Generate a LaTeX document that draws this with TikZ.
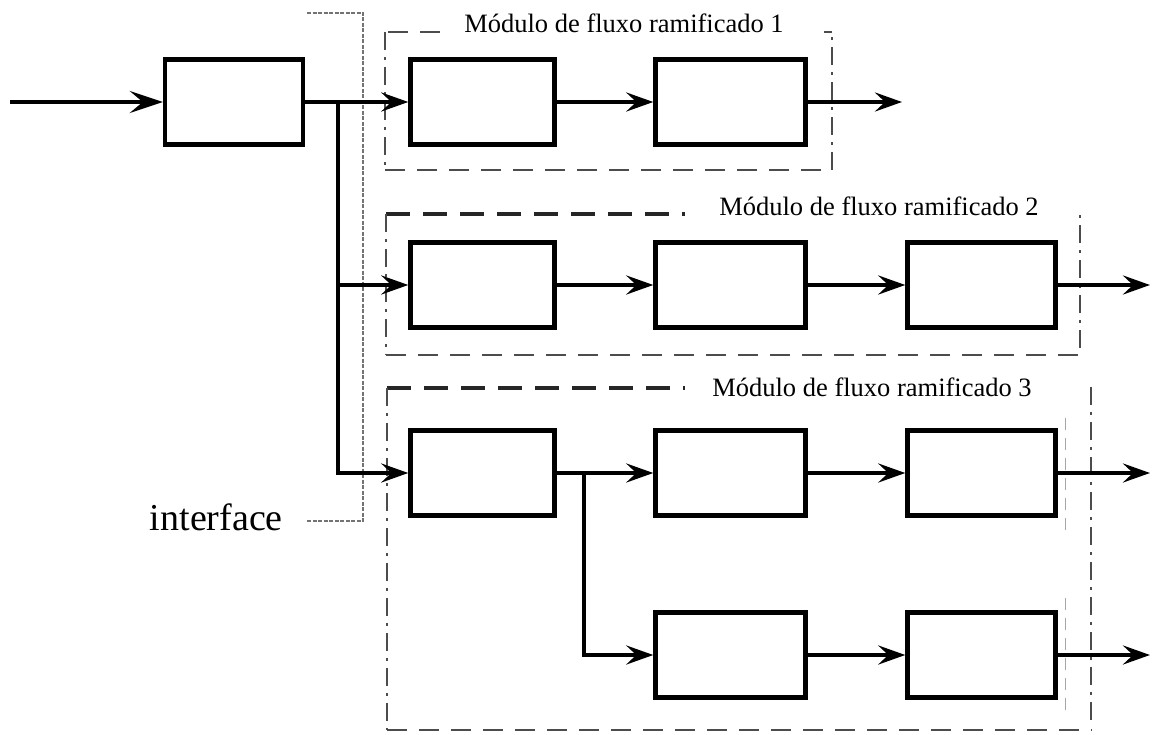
\documentclass[tikz,border=0pt]{standalone}
\usepackage{fontspec}
\setmainfont{Liberation Serif}
\newfontfamily\labelserif{Liberation Serif}
\usetikzlibrary{arrows.meta}
\begin{document}
\begin{tikzpicture}[x=1pt,y=-1pt,
  blk/.style={draw, line width=4.4pt, minimum height=85pt, inner sep=0pt},
  flow/.style={line width=4pt, -{Stealth[length=27pt,width=19pt,inset=10pt]}},
  inflow/.style={line width=4pt, -{Stealth[length=33pt,width=22pt,inset=13pt]}},
  hframe/.style={draw=black!70, line width=1.4pt, dash pattern=on 20pt off 12pt},
  vframe/.style={draw=black!70, line width=1.4pt, dash pattern=on 18pt off 7pt on 3pt off 7pt},
  faint/.style={draw=black!35, line width=1pt, dash pattern=on 12pt off 8pt},
  thickdash/.style={draw=black!85, line width=4pt, dash pattern=on 24pt off 13pt},
  iface/.style={draw=black!55, line width=1.3pt, dash pattern=on 4pt off 1.5pt},
  title/.style={font=\labelserif\fontsize{26.5}{30}\selectfont, anchor=base, inner sep=0pt},
]
\useasboundingbox (0,0) rectangle (1155,735);

% module frames
% module 1
\draw[hframe] (440,32) -- (385,32);
\draw[vframe] (385,32) -- (385,170);
\draw[hframe] (385,170) -- (832,170);
\draw[vframe] (832,170) -- (832,32);
\draw[hframe] (832,32) -- (824,32);
% module 2
\draw[thickdash] (386,214) -- (685,214);
\draw[vframe] (386,214) -- (386,355);
\draw[hframe] (386,355) -- (1078,355);
\draw[vframe] (1080,348) -- (1080,215);
% module 3
\draw[thickdash] (387,388) -- (685,388);
\draw[vframe] (387,388) -- (387,730);
\draw[hframe] (387,730) -- (1092,730);
\draw[vframe] (1091,720) -- (1091,385);
\draw[faint] (1065,418) -- (1065,530);
\draw[faint] (1065,598) -- (1065,712);

% module titles
\node[title] (t1) at (624,33) {Módulo de fluxo ramificado 1};
\node[title] (t2) at (879,215) {Módulo de fluxo ramificado 2};
\node[title] (t3) at (872,396) {Módulo de fluxo ramificado 3};

% interface bracket
\draw[iface] (307,13) -- (363,13) -- (363,521) -- (307,521);
\node[anchor=base east, font=\labelserif\fontsize{38}{40}\selectfont, inner sep=0pt] (ifl) at (283,530) {interface};

% blocks
\node[blk, minimum width=138pt] (A) at (234,102) {};
\node[blk, minimum width=144pt] (b11) at (482.5,102) {};
\node[blk, minimum width=150pt] (b12) at (730.5,102) {};
\node[blk, minimum width=144pt] (b21) at (482.5,285) {};
\node[blk, minimum width=150pt] (b22) at (730.5,285) {};
\node[blk, minimum width=148pt] (b23) at (981.5,285) {};
\node[blk, minimum width=144pt] (b31) at (482.5,473) {};
\node[blk, minimum width=150pt] (b32) at (730.5,473) {};
\node[blk, minimum width=148pt] (b33) at (981.5,473) {};
\node[blk, minimum width=150pt] (b42) at (730.5,655) {};
\node[blk, minimum width=148pt] (b43) at (981.5,655) {};

% junctions and free ends
\coordinate (in) at (10,102);
\coordinate (j1) at (338,102);
\coordinate (j2) at (584,473);
\coordinate (o1) at (902,102);
\coordinate (o2) at (1150,285);
\coordinate (o3) at (1150,473);
\coordinate (o4) at (1150,655);

% connectors
\draw[inflow] (in) -- (A.west);
\draw[flow] (A.east) -- (b11.west);
\draw[flow] (j1) |- (b21.west);
\draw[flow] (j1) |- (b31.west);
\draw[flow] (b11.east) -- (b12.west);
\draw[flow] (b12.east) -- (o1);
\draw[flow] (b21.east) -- (b22.west);
\draw[flow] (b22.east) -- (b23.west);
\draw[flow] (b23.east) -- (o2);
\draw[flow] (b31.east) -- (b32.west);
\draw[flow] (b32.east) -- (b33.west);
\draw[flow] (b33.east) -- (o3);
\draw[flow] (j2) |- (b42.west);
\draw[flow] (b42.east) -- (b43.west);
\draw[flow] (b43.east) -- (o4);
\end{tikzpicture}
\end{document}
